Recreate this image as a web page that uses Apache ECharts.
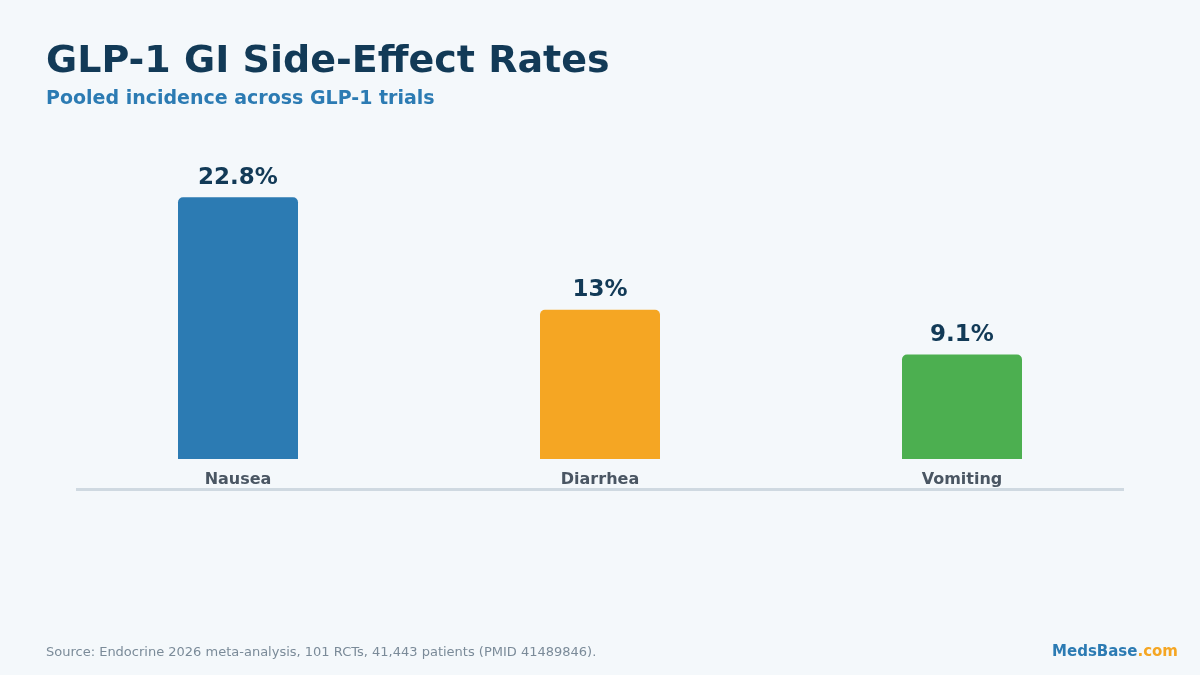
<!DOCTYPE html>
<html>
<head>
<meta charset="utf-8">
<script src="https://cdn.jsdelivr.net/npm/echarts@6/dist/echarts.min.js"></script>
<style>
html,body{margin:0;padding:0;background:#f4f8fb;}
#chart{width:1200px;height:675px;}
</style>
</head>
<body>
<div id="chart"></div>
<script>
const categories = ['Nausea', 'Diarrhea', 'Vomiting'];
const rates = [22.8, 13, 9.1];
const barColors = ['#2c7bb3', '#f5a623', '#4caf50'];

const FONT = '"DejaVu Sans", sans-serif';
const chart = echarts.init(document.getElementById('chart'));
chart.setOption({
  backgroundColor: '#f4f8fb',
  animation: false,
  title: [
    {
      text: 'GLP-1 GI Side-Effect Rates',
      left: 46, top: 43, padding: 0,
      textStyle: {fontFamily: FONT, fontWeight: 'bold', fontSize: 38, color: '#123a57'}
    },
    {
      text: 'Pooled incidence across GLP-1 trials',
      left: 46, top: 90, padding: 0,
      textStyle: {fontFamily: FONT, fontWeight: 'bold', fontSize: 19, color: '#2c7bb3'}
    },
    {
      text: 'Source: Endocrine 2026 meta-analysis, 101 RCTs, 41,443 patients (PMID 41489846).',
      left: 46, top: 646, padding: 0,
      textStyle: {fontFamily: FONT, fontWeight: 'normal', fontSize: 13, color: '#7b8b99'}
    },
    {
      text: '{a|MedsBase}{b|.com}',
      right: 22, top: 645, padding: 0,
      textStyle: {
        rich: {
          a: {fontFamily: FONT, fontWeight: 'bold', fontSize: 15, color: '#2c7bb3'},
          b: {fontFamily: FONT, fontWeight: 'bold', fontSize: 15, color: '#f5a623'}
        }
      }
    }
  ],
  grid: {left: 57, right: 57, top: 172, bottom: 216, containLabel: false},
  xAxis: {
    type: 'category',
    data: categories,
    axisLine: {show: false},
    axisTick: {show: false},
    axisLabel: {margin: 13, fontFamily: FONT, fontWeight: 'bold', fontSize: 16, color: '#4a5663'}
  },
  yAxis: {
    type: 'value', min: 0, max: 25,
    show: false,
    splitLine: {show: false}
  },
  graphic: [
    {type: 'rect', shape: {x: 76, y: 488, width: 1048, height: 3}, style: {fill: '#cfd9e1'}, silent: true}
  ],
  series: [{
    type: 'bar',
    barWidth: 120,
    data: rates.map((v, i) => ({value: v, itemStyle: {color: barColors[i]}})),
    itemStyle: {borderRadius: [5, 5, 0, 0]},
    label: {
      show: true, position: 'top', distance: 8,
      formatter: p => p.value + '%',
      fontFamily: FONT, fontWeight: 'bold', fontSize: 23, color: '#123a57'
    }
  }]
});
</script>
</body>
</html>
